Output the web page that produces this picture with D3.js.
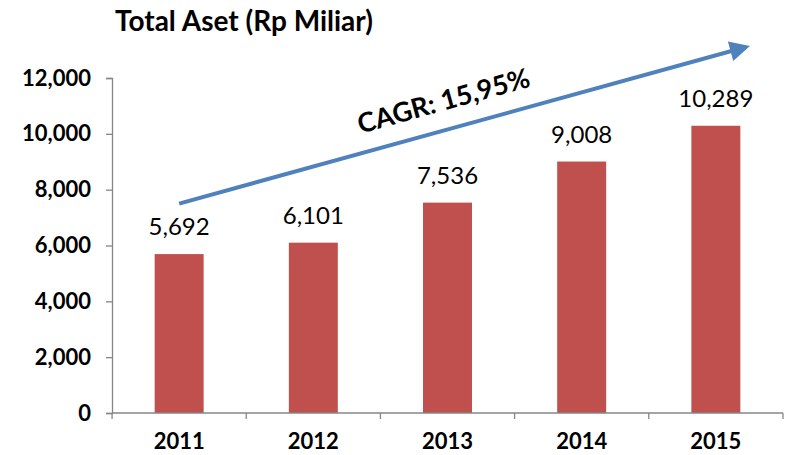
<!DOCTYPE html>
<html>
<head>
<meta charset="utf-8">
<script src="https://cdn.jsdelivr.net/npm/d3@7"></script>
<style>
  body { margin: 0; background: #fff; }
  svg text { font-family: Lato, "Open Sans", sans-serif; fill: #000; }
</style>
</head>
<body>
<svg></svg>
<script>
var years = ["2011", "2012", "2013", "2014", "2015"];
var assets = [5692, 6101, 7536, 9008, 10289];
var yTicks = [0, 2000, 4000, 6000, 8000, 10000, 12000];
var title = "Total Aset (Rp Miliar)";
var cagrLabel = "CAGR: 15,95%";

function draw() {
  var width = 787, height = 455;
  var plotLeft = 112, plotRight = 783, plotTop = 78, plotBottom = 413;

  var svg = d3.select("svg").attr("width", width).attr("height", height);

  var x = d3.scaleBand().domain(years).range([plotLeft, plotRight]).paddingInner(0.635).paddingOuter(0.318);
  var y = d3.scaleLinear().domain([0, 12000]).range([plotBottom, plotTop]);
  var fmt = d3.format(",");

  // title
  svg.append("text")
    .attr("x", 115).attr("y", 31)
    .attr("font-size", 28).attr("font-weight", "bold")
    .text(title);

  // bars
  svg.append("g").selectAll("rect").data(assets).enter().append("rect")
    .attr("x", (d, i) => x(years[i]))
    .attr("y", d => y(d))
    .attr("width", x.bandwidth())
    .attr("height", d => plotBottom - y(d))
    .attr("fill", "#C0504D");

  // value labels
  svg.append("g").selectAll("text").data(assets).enter().append("text")
    .attr("x", (d, i) => x(years[i]) + x.bandwidth() / 2)
    .attr("y", d => y(d) - 19)
    .attr("text-anchor", "middle")
    .attr("font-size", 24)
    .text(d => fmt(d));

  // y axis
  var yAxis = svg.append("g")
    .attr("transform", "translate(" + plotLeft + ",0)")
    .call(d3.axisLeft(y).tickValues(yTicks).tickFormat(fmt).tickSize(6).tickPadding(15));
  yAxis.selectAll("text").attr("font-size", 22).attr("font-weight", "bold").attr("font-family", "Lato");

  // x axis with ticks between categories
  var xAxis = svg.append("g")
    .attr("transform", "translate(0," + plotBottom + ")")
    .call(d3.axisBottom(x).tickSize(0).tickPadding(20));
  xAxis.selectAll("text").attr("font-size", 22).attr("font-weight", "bold").attr("font-family", "Lato");
  var edges = years.map(d => x(d) - x.step() * x.paddingInner() / 2).concat([plotRight]);
  xAxis.selectAll(".sep").data(edges).enter().append("line")
    .attr("class", "sep")
    .attr("x1", d => d).attr("x2", d => d)
    .attr("y1", 0).attr("y2", 6);
  svg.selectAll(".domain, .tick line, .sep").attr("stroke", "#868686").attr("stroke-width", 1.3);
  xAxis.select(".domain").attr("d", "M" + plotLeft + ",0H" + plotRight);

  // CAGR arrow
  svg.append("defs").append("marker")
    .attr("id", "head").attr("viewBox", "0 0 10 10")
    .attr("refX", 8).attr("refY", 5)
    .attr("markerWidth", 5.5).attr("markerHeight", 5)
    .attr("markerUnits", "strokeWidth")
    .attr("orient", "auto")
    .append("path").attr("d", "M0,0L10,5L0,10Z").attr("fill", "#4F81BD");

  var ax0 = x("2011") + x.bandwidth() / 2, ay0 = y(7500);
  var ax1 = 746, ay1 = 47;
  svg.append("line")
    .attr("x1", ax0).attr("y1", ay0).attr("x2", ax1).attr("y2", ay1)
    .attr("stroke", "#4F81BD").attr("stroke-width", 4)
    .attr("marker-end", "url(#head)");

  var ang = Math.atan2(ay1 - ay0, ax1 - ax0) * 180 / Math.PI;
  svg.append("text")
    .attr("transform", "translate(446,110) rotate(" + ang + ")")
    .attr("text-anchor", "middle")
    .attr("font-size", 27).attr("font-weight", "bold")
    .text(cagrLabel);
}
draw();
</script>
</body>
</html>
